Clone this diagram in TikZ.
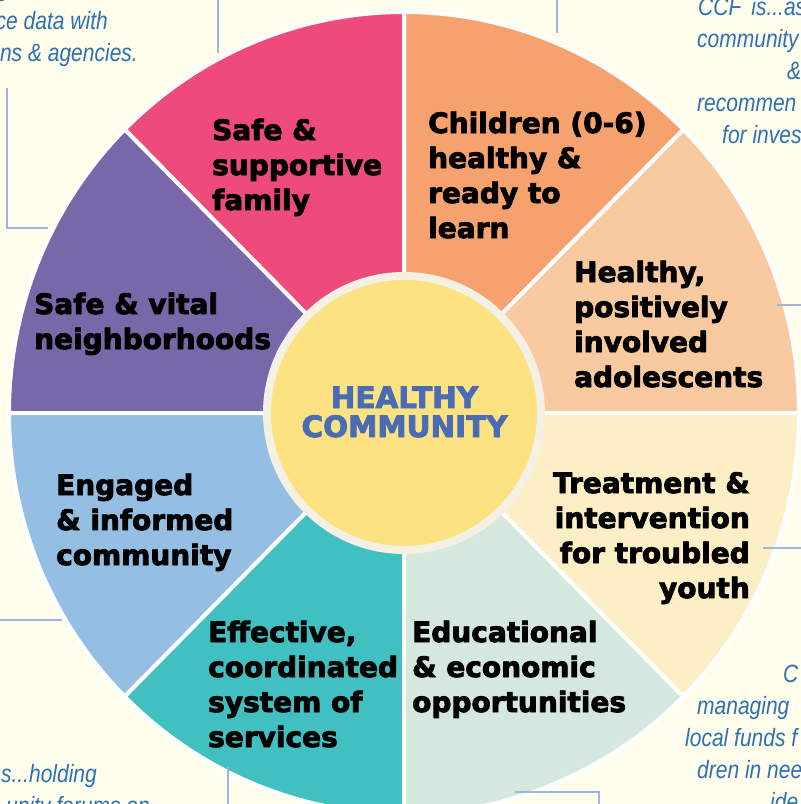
\documentclass[tikz,border=0pt]{standalone}
\usepackage{fontspec}
\newfontfamily\secfont{DejaVu Sans}[BoldFeatures={FakeBold=3}]
\newfontfamily\notefont{Liberation Sans}[FakeStretch=0.84]
\definecolor{bgcream}{HTML}{FFFDEB}
\definecolor{cpink}{HTML}{EE4A7B}
\definecolor{corange}{HTML}{F5A26F}
\definecolor{cpeach}{HTML}{F9C9A0}
\definecolor{cpaleyel}{HTML}{FCEFC5}
\definecolor{cgreen}{HTML}{D4E8DD}
\definecolor{cteal}{HTML}{41BFC1}
\definecolor{cltblue}{HTML}{94BFE2}
\definecolor{cpurple}{HTML}{7868AA}
\definecolor{hubyellow}{HTML}{FDE282}
\definecolor{hubring}{HTML}{F4F0E4}
\definecolor{hubblue}{HTML}{4A6BB5}
\definecolor{noteblue}{HTML}{2E70B2}
\definecolor{leaderblue}{HTML}{9DB5DF}
\newcommand\lftlines[1]{\vtop{\halign{##\hfil\cr#1\crcr}}}
\newcommand\rgtlines[1]{\vtop{\halign{\hfil##\cr#1\crcr}}}
\newcommand\ctrlines[1]{\vtop{\halign{\hfil##\hfil\cr#1\crcr}}}
\tikzset{
  sector/.style={draw=white, line width=4pt, line join=round},
  seclabel/.style={font=\secfont\bfseries\fontsize{28}{35}\selectfont, inner sep=0pt, text=black},
  hublabel/.style={font=\secfont\bfseries\fontsize{29.4}{29}\selectfont, inner sep=0pt, text=hubblue},
  note/.style={font=\notefont\itshape\fontsize{25}{32}\selectfont, text=noteblue, inner sep=0pt},
  leader/.style={draw=leaderblue, line width=2.5pt},
}
\begin{document}
\begin{tikzpicture}[x=1pt, y=-1pt]
\useasboundingbox (0,0) rectangle (801,804);
\clip (0,0) rectangle (801,804);
\fill[bgcream] (0,0) rectangle (801,804);
\coordinate (C) at (404,413);
% sectors (visual angle a .. a+45, counter-clockwise from east)
\foreach \a/\col in {0/cpeach,45/corange,90/cpink,135/cpurple,180/cltblue,225/cteal,270/cgreen,315/cpaleyel}{
  \filldraw[sector, fill=\col] (C) -- ++(-\a:395 and 401)
     arc[start angle=-\a, end angle=-\a-45, x radius=395, y radius=401] -- cycle;
}
% hub
\node[circle, fill=hubyellow, draw=hubring, line width=8pt, minimum size=274pt, inner sep=0pt] (hub) at (C) {};
\node[hublabel, anchor=base] (hubtext) at (404.5,408) {\ctrlines{HEALTHY\cr COMMUNITY}};
% sector labels
\node[seclabel, anchor=base west] (lfamily) at (212,140) {\lftlines{Safe \&\cr supportive\cr family}};
\node[seclabel, anchor=base west] (lchildren) at (428,133) {\lftlines{Children (0-6)\cr healthy \&\cr ready to\cr learn}};
\node[seclabel, anchor=base west] (ladol) at (574,282) {\lftlines{Healthy,\cr positively\cr involved\cr adolescents}};
\node[seclabel, anchor=base west] (lneigh) at (34,314) {\lftlines{Safe \& vital\cr neighborhoods}};
\node[seclabel, anchor=base west] (lengaged) at (56,495) {\lftlines{Engaged\cr \& informed\cr community}};
\node[seclabel, anchor=base east] (ltreat) at (750,493) {\rgtlines{Treatment \&\cr intervention\cr for troubled\cr youth}};
\node[seclabel, anchor=base west] (lservices) at (208,642) {\lftlines{Effective,\cr coordinated\cr system of\cr services}};
\node[seclabel, anchor=base west] (leduc) at (412,642) {\lftlines{Educational\cr \& economic\cr opportunities}};
% side notes (cut by the frame)
\node[note, anchor=base east] (ntl0) at (9,-4) {g};
\node[note, anchor=base east] (ntl1) at (108,29) {ce data with};
\node[note, anchor=base east] (ntl2) at (138,61) {ns \& agencies.};
\node[note, anchor=base west] (ntr1) at (698,15) {CCF\, is...as};
\node[note, anchor=base west] (ntr2) at (697,47) {community};
\node[note, anchor=base west] (ntr3) at (787,79) {\&};
\node[note, anchor=base west] (ntr4) at (697,111) {recommen};
\node[note, anchor=base west] (ntr5) at (722,143) {for inves};
\node[note, anchor=base west] (nbr1) at (783,682) {C};
\node[note, anchor=base west] (nbr2) at (697,714) {managing};
\node[note, anchor=base west] (nbr3) at (685,746) {local funds f};
\node[note, anchor=base west] (nbr4) at (697,778) {dren in nee};
\node[note, anchor=base west] (nbr5) at (770,810) {ide};
\node[note, anchor=base east] (nbl1) at (97,782) {s...holding};
\node[note, anchor=base east] (nbl2) at (150,814) {unity forums on};
% leader lines
\coordinate (ta1) at (218,0);   \coordinate (ta2) at (218,53);
\coordinate (tb1) at (7,88);    \coordinate (tb2) at (7,228);  \coordinate (tb3) at (48,228);
\coordinate (tc1) at (557,0);   \coordinate (tc2) at (557,33);
\coordinate (ra1) at (777,305); \coordinate (ra2) at (801,305);
\coordinate (rb1) at (763,548); \coordinate (rb2) at (801,548);
\coordinate (la1) at (0,620);   \coordinate (la2) at (62,620);
\coordinate (ba1) at (228,767); \coordinate (ba2) at (228,804);
\coordinate (bb1) at (515,792); \coordinate (bb2) at (599,792); \coordinate (bb3) at (599,804);
\draw[leader] (ta1) -- (ta2);
\draw[leader] (tb1) -- (tb2) -- (tb3);
\draw[leader] (tc1) -- (tc2);
\draw[leader] (ra1) -- (ra2);
\draw[leader] (rb1) -- (rb2);
\draw[leader] (la1) -- (la2);
\draw[leader] (ba1) -- (ba2);
\draw[leader] (bb1) -- (bb2) -- (bb3);
\end{tikzpicture}
\end{document}
